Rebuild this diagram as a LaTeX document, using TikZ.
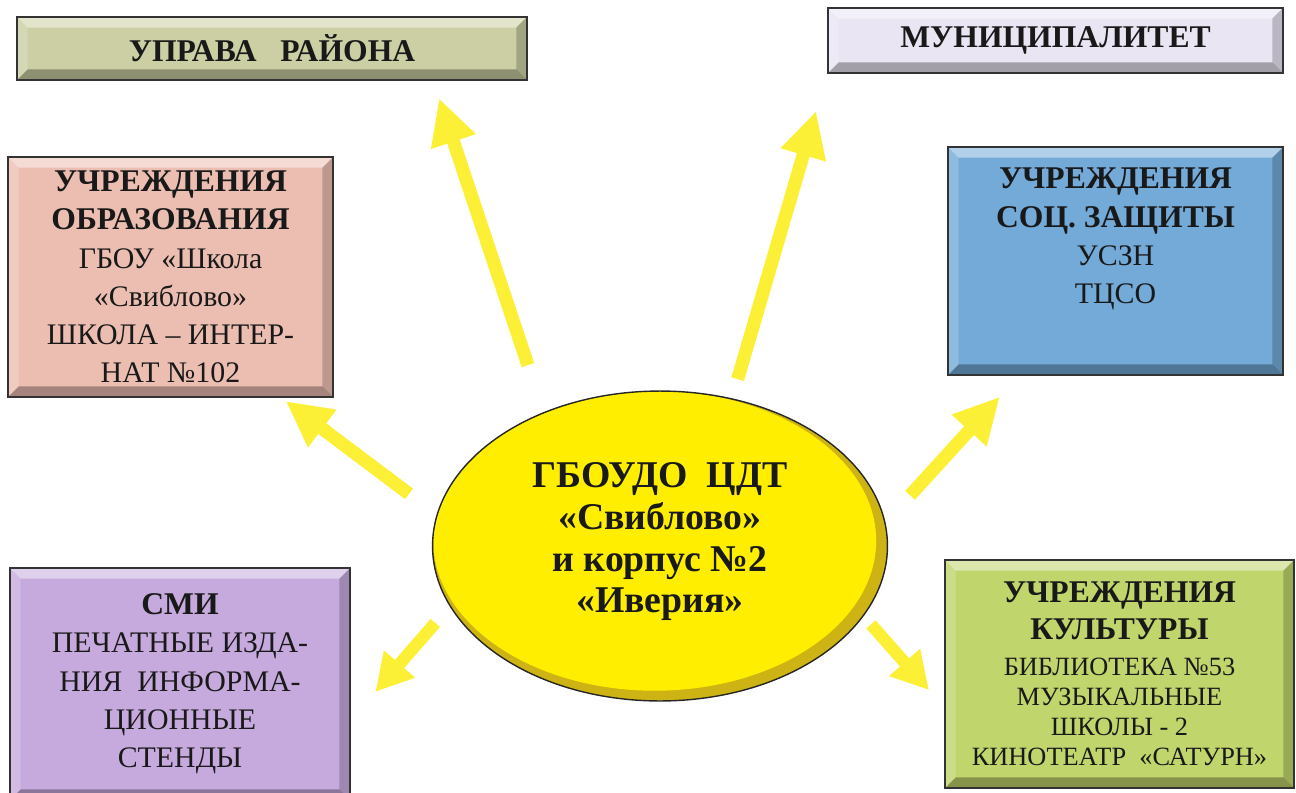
\documentclass[tikz,border=0pt]{standalone}
\usepackage{fontspec}
\setmainfont{Liberation Serif}
\usetikzlibrary{shapes.geometric, arrows.meta, calc}

\definecolor{upravafill}{RGB}{203,207,163}
\definecolor{munifill}{RGB}{233,229,243}
\definecolor{obrazfill}{RGB}{236,190,178}
\definecolor{socfill}{RGB}{115,170,216}
\definecolor{smifill}{RGB}{198,170,222}
\definecolor{kultfill}{RGB}{192,213,108}
\definecolor{hubyellow}{RGB}{255,238,0}
\definecolor{hubrim}{RGB}{205,180,20}
\definecolor{rayyellow}{RGB}{252,240,55}

\newcommand{\headln}[1]{{\fontsize{18}{21.8}\selectfont\bfseries #1}}

\tikzset{
  panel/.style={rectangle, draw=black!80, line width=1.3pt, align=center, inner sep=3pt,
    font=\fontsize{17}{21.8}\selectfont, text=black!90,
    path picture={
      \path (path picture bounding box.north west) coordinate (nw)
            (path picture bounding box.north east) coordinate (ne)
            (path picture bounding box.south west) coordinate (sw)
            (path picture bounding box.south east) coordinate (se);
      \fill[white, opacity=0.45] (nw) -- (ne) -- ([shift={(-6pt,-6pt)}]ne) -- ([shift={(6pt,-6pt)}]nw) -- cycle;
      \fill[white, opacity=0.2] (nw) -- ([shift={(6pt,-6pt)}]nw) -- ([shift={(6pt,6pt)}]sw) -- (sw) -- cycle;
      \fill[black, opacity=0.2] (ne) -- (se) -- ([shift={(-6pt,6pt)}]se) -- ([shift={(-6pt,-6pt)}]ne) -- cycle;
      \fill[black, opacity=0.3] (sw) -- (se) -- ([shift={(-6pt,6pt)}]se) -- ([shift={(6pt,6pt)}]sw) -- cycle;
    }},
  hub/.style={ellipse, draw=black!85, line width=0.8pt, fill=hubrim, inner sep=0pt,
    minimum width=9.1cm, minimum height=6.2cm, align=center, text=black!90,
    font=\fontsize{21.5}{23.8}\selectfont\bfseries,
    path picture={
      \fill[hubyellow] ([shift={(-3pt,3pt)}]path picture bounding box.center) ellipse (4.43cm and 3cm);
    }},
  link/.style={line width=7.5pt, draw=rayyellow, -{Triangle[length=26pt,width=25pt]}},
  shortlink/.style={line width=7pt, draw=rayyellow, -{Triangle[length=21pt,width=22pt]}},
}

\begin{document}
\begin{tikzpicture}[x=0.02cm, y=-0.02cm]

\useasboundingbox (0,0) rectangle (1296,792);

% centre
\node (centre) at (660, 546) [hub]
{ГБОУДО\ \ ЦДТ\\ «Свиблово»\\ и корпус №2\\ «Иверия»\\[-0.5cm]};

% boxes round the centre
\node (uprava) at (272, 48.5) [panel, fill=upravafill, minimum width=10.2cm, minimum height=1.26cm]
{\headln{УПРАВА\ \ \ РАЙОНА}};
\node (muni) at (1055.5, 40.5) [panel, fill=munifill, minimum width=9.1cm, minimum height=1.3cm]
{\headln{МУНИЦИПАЛИТЕТ}};
\node (obraz) at (170.5, 277) [panel, fill=obrazfill, minimum width=6.5cm, minimum height=4.8cm]
{\headln{УЧРЕЖДЕНИЯ}\\ \headln{ОБРАЗОВАНИЯ}\\ ГБОУ «Школа\\ «Свиблово»\\ ШКОЛА – ИНТЕР-\\ НАТ №102};
\node (soc) at (1115.5, 261) [panel, fill=socfill, minimum width=6.7cm, minimum height=4.56cm] {};
\node (soctext) at ([yshift=-0.32cm]soc.north) [anchor=north, align=center, text=black!90,
  font=\fontsize{17}{21.8}\selectfont]
{\headln{УЧРЕЖДЕНИЯ}\\ \headln{СОЦ. ЗАЩИТЫ}\\ УСЗН\\ ТЦСО};
\node (smi) at (180, 684) [panel, fill=smifill, minimum width=6.8cm, minimum height=4.64cm]
{\headln{СМИ}\\ ПЕЧАТНЫЕ ИЗДА-\\ НИЯ\ \ ИНФОРМА-\\ ЦИОННЫЕ\\ СТЕНДЫ};
\node (kult) at (1119.5, 674) [panel, fill=kultfill, minimum width=6.98cm, minimum height=4.56cm,
  font=\fontsize{15}{17}\selectfont]
{\headln{УЧРЕЖДЕНИЯ}\\[4pt] \headln{КУЛЬТУРЫ}\\[3.5pt] БИБЛИОТЕКА №53\\ МУЗЫКАЛЬНЫЕ\\ ШКОЛЫ - 2\\ КИНОТЕАТР\ \ «САТУРН»};

% arrows
\draw[link, shorten <=0.99cm, shorten >=0.36cm] (centre.131) -- ($(uprava.south west)!0.815!(uprava.south east)$);
\draw[link, shorten <=0.40cm, shorten >=0.77cm] (centre.64.2) -- (muni.south west);
\draw[link, shorten <=0.69cm, shorten >=0.10cm] (centre.172.2) -- ($(obraz.south west)!0.84!(obraz.south east)$);
\draw[link, shorten <=0.73cm, shorten >=0.56cm] (centre.6.9) -- ($(soc.south west)!0.213!(soc.south east)$);
\draw[shortlink, shorten <=0.44cm, shorten >=0.74cm] (centre.196.7) -- ($(smi.north east)!0.653!(smi.south east)$);
\draw[shortlink, shorten <=0.22cm, shorten >=0.45cm] (centre.341.5) -- ($(kult.north west)!0.643!(kult.south west)$);

\end{tikzpicture}
\end{document}
